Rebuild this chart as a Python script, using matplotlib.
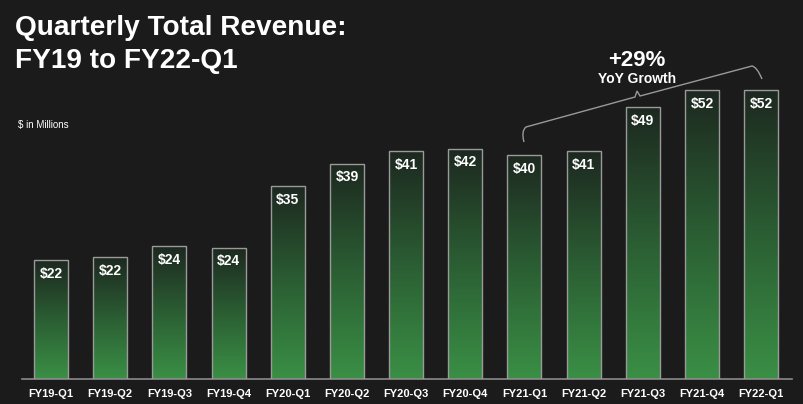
import numpy as np
import matplotlib
matplotlib.use("Agg")
import matplotlib.pyplot as plt
from matplotlib.colors import LinearSegmentedColormap
from matplotlib.patches import Rectangle
from matplotlib.path import Path
from matplotlib.patches import PathPatch

quarters = ["FY19-Q1", "FY19-Q2", "FY19-Q3", "FY19-Q4",
            "FY20-Q1", "FY20-Q2", "FY20-Q3", "FY20-Q4",
            "FY21-Q1", "FY21-Q2", "FY21-Q3", "FY21-Q4", "FY22-Q1"]
revenue = [21.4, 21.9, 23.9, 23.6, 34.7, 38.7, 41.0, 41.4, 40.3, 41.0, 48.9, 52.0, 52.0]
labels = ["$22", "$22", "$24", "$24", "$35", "$39", "$41", "$42",
          "$40", "$41", "$49", "$52", "$52"]

bg = "#1b1b1b"
plt.rcParams['font.family'] = ['Liberation Sans', 'DejaVu Sans']

W, H = 804, 404
fig = plt.figure(figsize=(W / 100, H / 100), dpi=100, facecolor=bg)

# axes placed in pixel terms
left_px, right_px, bot_px, top_px = 22, 792, 379, 40
ax = fig.add_axes([left_px / W, 1 - bot_px / H, (right_px - left_px) / W, (bot_px - top_px) / H])
ax.set_facecolor(bg)
ax.set_xlim(-0.49, 12.52)
ax.set_ylim(0, (bot_px - top_px) / 5.56)

green = LinearSegmentedColormap.from_list("g", ["#3a8f45", "#2b5e33", "#1d2820"])
grad = np.linspace(0, 1, 256).reshape(-1, 1)
bw = 0.575
for i, v in enumerate(revenue):
    x0 = i - bw / 2
    im = ax.imshow(grad, cmap=green, aspect="auto", origin="lower",
                   extent=[x0, x0 + bw, 0, v], zorder=2)
    rect = Rectangle((x0, 0), bw, v, facecolor="none", edgecolor="#9a9a9a", lw=1, zorder=3)
    ax.add_patch(rect)
    im.set_clip_path(rect)
    ax.text(i, v - 1.2, labels[i], ha="center", va="top", color="white",
            fontsize=10, fontweight="bold", zorder=4)

ax.set_xlim(-0.49, 12.52)
ax.set_xticks(range(len(quarters)))
ax.set_xticklabels(quarters, color="white", fontsize=8, fontweight="bold")
ax.tick_params(axis="x", length=0, pad=7)
ax.set_yticks([])
for s in ["top", "right", "left"]:
    ax.spines[s].set_visible(False)
ax.spines["bottom"].set_color("#8a8a8a")
ax.spines["bottom"].set_linewidth(1.2)

# titles
fig.text(15 / W, 1 - 35 / H, "Quarterly Total Revenue:", color="white", fontsize=20.2,
         fontweight="bold", ha="left", va="baseline")
fig.text(15 / W, 1 - 68 / H, "FY19 to FY22-Q1", color="white", fontsize=20.2,
         fontweight="bold", ha="left", va="baseline")
fig.text(18 / W, 1 - 128 / H, "$ in Millions", color="white", fontsize=7,
         ha="left", va="baseline")

# growth bracket (pixel coords)
pts = [(524, 142), (521, 131), (526, 127), (635, 97), (637, 91), (640, 96),
       (752, 66), (757, 67), (762, 79)]
codes = [Path.MOVETO, Path.CURVE3, Path.CURVE3, Path.LINETO, Path.LINETO,
         Path.LINETO, Path.LINETO, Path.CURVE3, Path.CURVE3]
verts = [(x / W, 1 - y / H) for x, y in pts]
fig.patches.append(PathPatch(Path(verts, codes), transform=fig.transFigure,
                             facecolor="none", edgecolor="#999999", lw=1))
fig.text(637 / W, 1 - 66 / H, "+29%", color="white", fontsize=16,
         fontweight="bold", ha="center", va="baseline")
fig.text(637 / W, 1 - 83 / H, "YoY Growth", color="white", fontsize=10,
         fontweight="bold", ha="center", va="baseline")

fig.savefig("out.png", dpi=100, facecolor=bg)
